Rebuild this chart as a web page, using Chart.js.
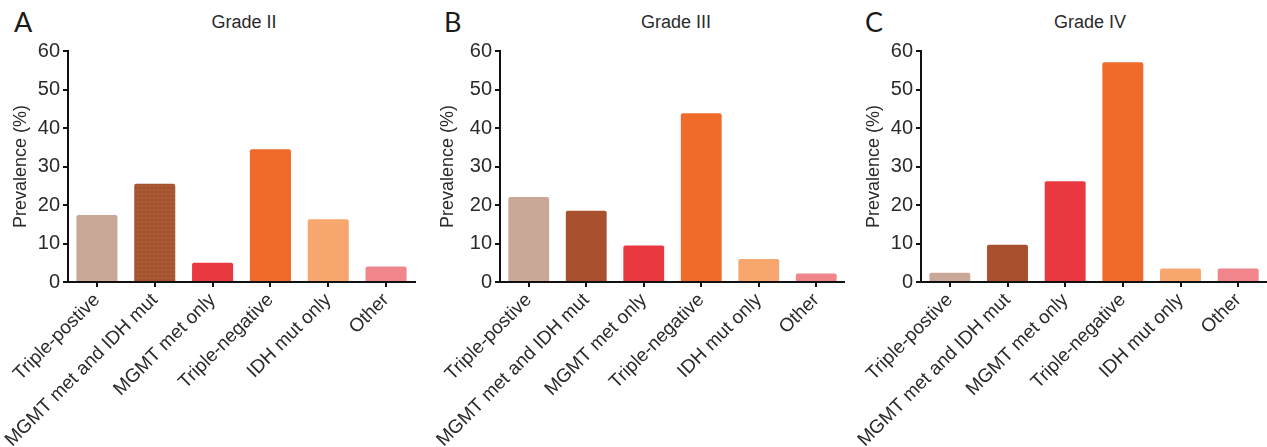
<!DOCTYPE html>
<html>
<head>
<meta charset="utf-8">
<script src="https://cdn.jsdelivr.net/npm/chart.js@4.4.1/dist/chart.umd.min.js"></script>
<style>
  html, body { margin:0; padding:0; background:#fff; }
  body { width:1267px; height:447px; position:relative; overflow:hidden; font-family:"Liberation Sans", Arial, sans-serif; }
  .wrap { position:absolute; top:0; height:447px; }
  .letter { position:absolute; top:5px; font-family:Lato, "Open Sans", sans-serif; font-size:27px; color:#1a1a1a; }
  .grade { position:absolute; top:12px; font-size:18px; color:#2a2a2a; transform:translateX(-50%); white-space:nowrap; }
</style>
</head>
<body>
<div class="letter" style="left:14px">A</div>
<div class="letter" style="left:444px">B</div>
<div class="letter" style="left:865px">C</div>
<div class="grade" style="left:244px">Grade II</div>
<div class="grade" style="left:676px">Grade III</div>
<div class="grade" style="left:1090px">Grade IV</div>
<div class="wrap" style="left:0px;width:420px"><canvas id="cA" width="420" height="447"></canvas></div>
<div class="wrap" style="left:432px;width:413px"><canvas id="cB" width="413" height="447"></canvas></div>
<div class="wrap" style="left:853px;width:414px"><canvas id="cC" width="414" height="447"></canvas></div>
<script>
const categories = ["Triple-postive", "MGMT met and IDH mut", "MGMT met only", "Triple-negative", "IDH mut only", "Other"];
const gradeII  = [17.4, 25.5, 5.0, 34.5, 16.3, 4.0];
const gradeIII = [22.1, 18.5, 9.5, 43.8, 6.0, 2.2];
const gradeIV  = [2.4, 9.7, 26.2, 57.1, 3.5, 3.5];
const yTicks = [0, 10, 20, 30, 40, 50, 60];
const barColors = ["#C9A898", "#A9502F", "#E9383F", "#F06B2A", "#F7A76E", "#F0868C"];

function dotPattern(base, dot) {
  const c = document.createElement('canvas');
  c.width = 4; c.height = 4;
  const g = c.getContext('2d');
  g.fillStyle = base; g.fillRect(0, 0, 4, 4);
  g.fillStyle = dot; g.beginPath(); g.arc(2, 2, 0.8, 0, Math.PI * 2); g.fill();
  return g.createPattern(c, 'repeat');
}

function makeChart(id, values, useDots, padRight, titlePad) {
  const ctx = document.getElementById(id).getContext('2d');
  const colors = barColors.slice();
  if (useDots) colors[1] = dotPattern("#A9502F", "#8F7F4C");
  return new Chart(ctx, {
    type: 'bar',
    data: {
      labels: categories,
      datasets: [{
        data: values,
        backgroundColor: colors,
        borderWidth: 0,
        borderRadius: 2,
        borderSkipped: 'bottom',
        barPercentage: 0.71,
        categoryPercentage: 1.0
      }]
    },
    options: {
      responsive: false,
      animation: false,
      events: [],
      layout: { padding: { top: 51, left: 0, right: padRight, bottom: 0 } },
      plugins: { legend: { display: false }, tooltip: { enabled: false }, title: { display: false } },
      scales: {
        x: {
          offset: true,
          afterFit: s => { s.height = 165; },
          grid: { display: true, offset: false, drawOnChartArea: false, drawTicks: true, tickLength: 5, color: '#111', lineWidth: 2 },
          border: { display: true, color: '#111', width: 2 },
          ticks: {
            autoSkip: false, maxRotation: 45, minRotation: 45, padding: 2,
            color: '#2a2a2a', font: { family: '"Liberation Sans", Arial, sans-serif', size: 19 }
          }
        },
        y: {
          min: 0, max: 60,
          afterFit: s => { s.width = 68; },
          afterBuildTicks: s => { s.ticks = yTicks.map(v => ({ value: v })); },
          grid: { display: true, drawOnChartArea: false, drawTicks: true, tickLength: 5, color: '#111', lineWidth: 2 },
          border: { display: true, color: '#111', width: 2 },
          ticks: { stepSize: 10, padding: 3, color: '#2a2a2a', font: { family: '"Liberation Sans", Arial, sans-serif', size: 20 } },
          title: {
            display: true, text: 'Prevalence (%)', color: '#2a2a2a',
            font: { family: '"Liberation Sans", Arial, sans-serif', size: 18 },
            padding: { top: titlePad, bottom: 0 }
          }
        }
      }
    }
  });
}

makeChart('cA', gradeII, true, 5, 10);
makeChart('cB', gradeIII, false, 0, 5);
makeChart('cC', gradeIV, false, 0, 10);
</script>
</body>
</html>
